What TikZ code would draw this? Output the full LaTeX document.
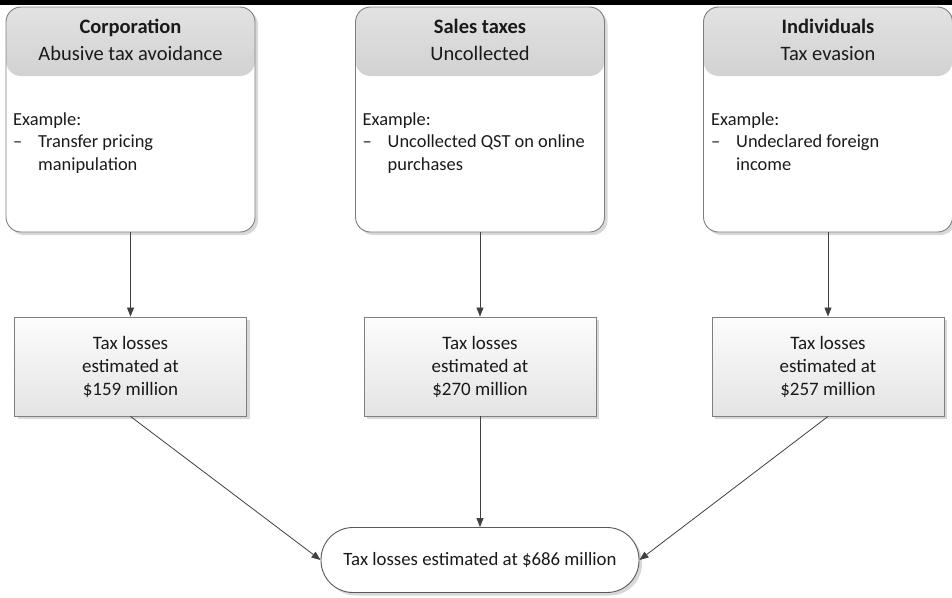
\documentclass[tikz,border=0pt]{standalone}
\usepackage{fontspec}
\setmainfont{Carlito}
\usetikzlibrary{arrows.meta,shadows}

\definecolor{txt}{HTML}{1A1A1A}
\definecolor{hdtop}{HTML}{E2E2E2}
\definecolor{hdbot}{HTML}{ADADAD}
\definecolor{bxtop}{HTML}{FCFCFC}
\definecolor{bxbot}{HTML}{E4E4E4}
\definecolor{edge}{HTML}{7F7F7F}
\definecolor{wire}{HTML}{404040}

\begin{document}
\begin{tikzpicture}[x=1pt,y=-1pt,
  every node/.style={text=txt},
  softshadow/.style={drop shadow={shadow xshift=3pt,shadow yshift=-3pt,fill=black!22,opacity=0.7}},
  catbox/.style={draw=edge,line width=0.9pt,fill=white,rounded corners=15pt,
    minimum width=249pt,minimum height=225pt,inner sep=0pt,softshadow,
    path picture={\shade[top color=hdtop,bottom color=hdbot]
      (path picture bounding box.north west) rectangle
      ([yshift=-69pt]path picture bounding box.north east);}},
  cattitle/.style={anchor=base,inner sep=0pt,font=\fontsize{20.5}{24}\selectfont\bfseries},
  catsub/.style={anchor=base,inner sep=0pt,font=\fontsize{20.5}{24}\selectfont},
  catbody/.style={anchor=north west,inner sep=0pt,align=left,font=\fontsize{18.4}{22.5}\selectfont},
  lossbox/.style={draw=edge,line width=0.9pt,top color=bxtop,bottom color=bxbot,
    minimum width=232pt,minimum height=99pt,align=center,softshadow,
    font=\fontsize{19}{23}\selectfont},
  totalbox/.style={draw=black!65,line width=0.9pt,fill=white,rounded corners=32pt,
    minimum width=318pt,minimum height=65pt,softshadow,
    font=\fontsize{18.8}{22.5}\selectfont},
  conn/.style={draw=wire,line width=0.8pt,-{Triangle[length=9pt,width=7pt]}}
]
\useasboundingbox (0,0) rectangle (952,597);
\fill[black] (0,0) rectangle (952,5);

% category boxes with shaded headers
\node[catbox] (corp) at (130.5,119.5) {};
\node[catbox] (sales) at (480,119.5) {};
\node[catbox] (indiv) at (828,119.5) {};

\node[cattitle] (corpT) at (130.5,33) {Corporation};
\node[catsub] (corpS) at (130.5,60) {Abusive tax avoidance};
\node[cattitle] (salesT) at (480,33) {Sales taxes};
\node[catsub] (salesS) at (480,60) {Uncollected};
\node[cattitle] (indivT) at (828,33) {Individuals};
\node[catsub] (indivS) at (828,60) {Tax evasion};

\node[catbody] (corpB) at (13,112.5)
  {Example:\\\makebox[25pt][l]{–}Transfer pricing\\\hspace*{25pt}manipulation};
\node[catbody] (salesB) at (362.5,112.5)
  {Example:\\\makebox[25pt][l]{–}Uncollected QST on online\\\hspace*{25pt}purchases};
\node[catbody] (indivB) at (711,112.5)
  {Example:\\\makebox[25pt][l]{–}Undeclared foreign\\\hspace*{25pt}income};

% loss estimates
\node[lossbox] (loss1) at (130.5,366.5) {Tax losses\\estimated at\\\$159 million};
\node[lossbox] (loss2) at (480,366.5) {Tax losses\\estimated at\\\$270 million};
\node[lossbox] (loss3) at (828,366.5) {Tax losses\\estimated at\\\$257 million};

% total
\node[totalbox] (total) at (480,560) {Tax losses estimated at \$686 million};

% connectors
\draw[conn] (corp.south) -- (loss1.north);
\draw[conn] (sales.south) -- (loss2.north);
\draw[conn] (indiv.south) -- (loss3.north);
\draw[conn] (loss1.south) -- (total.west);
\draw[conn] (loss2.south) -- (total.north);
\draw[conn] (loss3.south) -- (total.east);
\end{tikzpicture}
\end{document}
